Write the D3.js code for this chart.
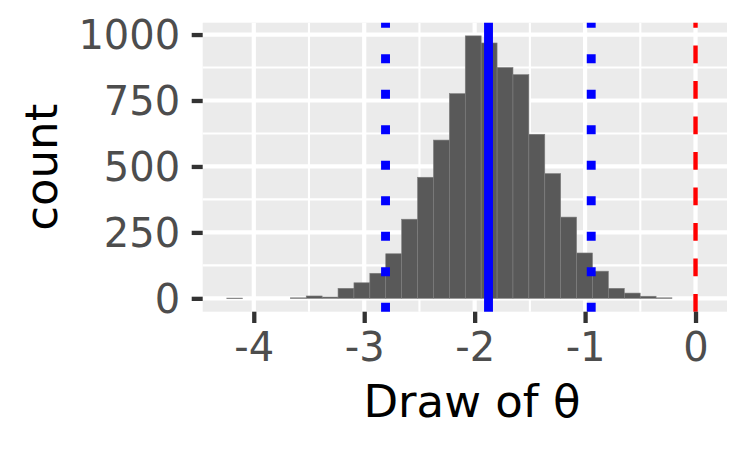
<!DOCTYPE html>
<html>
<head>
<meta charset="utf-8">
<script src="https://cdn.jsdelivr.net/npm/d3@7"></script>
<style>
  body { margin: 0; background: #fff; }
  text { font-family: "DejaVu Sans", sans-serif; }
</style>
</head>
<body>
<svg id="draws"></svg>
<script>
CHART_WIDTH = 750;
CHART_HEIGHT = 450;
PANEL = { left: 202.7, right: 727, top: 22.7, bottom: 311.7 };

// histogram of the draws: left edge of each bin and its count
var binWidth = 0.144;
var binLefts = [-4.245, -4.101, -3.957, -3.813, -3.669, -3.525, -3.381, -3.237,
                -3.093, -2.949, -2.805, -2.661, -2.517, -2.373, -2.229, -2.085,
                -1.941, -1.797, -1.653, -1.509, -1.365, -1.221, -1.077, -0.933,
                -0.789, -0.645, -0.501, -0.357];
var binCounts = [1, 0, 0, 0, 2, 9, 5, 38, 59, 95, 169, 300, 459, 600, 776, 995,
                 968, 875, 848, 622, 473, 308, 172, 103, 38, 20, 8, 2];

// reference lines
var meanDraw = -1.8745;
var intervalDraws = [-2.807, -0.9445];
var nullValue = 0;

var xTicks = [-4, -3, -2, -1, 0];
var xMinor = [-3.5, -2.5, -1.5, -0.5];
var yTicks = [0, 250, 500, 750, 1000];
var yMinor = [125, 375, 625, 875];

function buildHistogram() {
    var svg = d3.select("#draws")
        .attr("width", CHART_WIDTH)
        .attr("height", CHART_HEIGHT);

    var x = d3.scaleLinear().domain([-4.4625, 0.285]).range([PANEL.left, PANEL.right]);
    var y = d3.scaleLinear().domain([-50.6, 1044.9]).range([PANEL.bottom, PANEL.top]);

    svg.append("rect")
        .attr("x", PANEL.left)
        .attr("y", PANEL.top)
        .attr("width", PANEL.right - PANEL.left)
        .attr("height", PANEL.bottom - PANEL.top)
        .attr("fill", "#EBEBEB");

    var grid = svg.append("g").attr("stroke", "#fff");
    grid.selectAll(".yminor").data(yMinor).enter().append("line")
        .attr("x1", PANEL.left).attr("x2", PANEL.right)
        .attr("y1", function(d) { return y(d); })
        .attr("y2", function(d) { return y(d); })
        .attr("stroke-width", 2.1);
    grid.selectAll(".xminor").data(xMinor).enter().append("line")
        .attr("y1", PANEL.top).attr("y2", PANEL.bottom)
        .attr("x1", function(d) { return x(d); })
        .attr("x2", function(d) { return x(d); })
        .attr("stroke-width", 2.1);
    grid.selectAll(".ymajor").data(yTicks).enter().append("line")
        .attr("x1", PANEL.left).attr("x2", PANEL.right)
        .attr("y1", function(d) { return y(d); })
        .attr("y2", function(d) { return y(d); })
        .attr("stroke-width", 4.2);
    grid.selectAll(".xmajor").data(xTicks).enter().append("line")
        .attr("y1", PANEL.top).attr("y2", PANEL.bottom)
        .attr("x1", function(d) { return x(d); })
        .attr("x2", function(d) { return x(d); })
        .attr("stroke-width", 4.2);

    svg.append("g").selectAll("rect")
        .data(binLefts.map(function(b, i) { return { left: b, count: binCounts[i] }; })
                      .filter(function(d) { return d.count > 0; }))
        .enter().append("rect")
        .attr("x", function(d) { return x(d.left); })
        .attr("width", function(d) { return x(d.left + binWidth) - x(d.left); })
        .attr("y", function(d) { return y(d.count); })
        .attr("height", function(d) { return Math.max(0.6, y(0) - y(d.count)); })
        .attr("fill", "#595959")
        .attr("stroke", "#7f7f7f")
        .attr("stroke-width", 0.6);

    // vlines are drawn bottom to top so the dash pattern starts at the panel floor
    function vline(v, colour, width, dash) {
        svg.append("line")
            .attr("x1", x(v)).attr("x2", x(v))
            .attr("y1", PANEL.bottom).attr("y2", PANEL.top)
            .attr("stroke", colour)
            .attr("stroke-width", width)
            .attr("stroke-dasharray", dash);
    }
    intervalDraws.forEach(function(v) { vline(v, "#0000FF", 8.9, "8.9 26.6"); });
    vline(meanDraw, "#0000FF", 8.9, null);
    vline(nullValue, "#FF0000", 4.4, "17.75 17.75");

    // axes
    var plain = function(d) { return String(d); };
    var axisX = svg.append("g")
        .attr("transform", "translate(0," + PANEL.bottom + ")")
        .call(d3.axisBottom(x).tickValues(xTicks).tickSize(11.3).tickPadding(9.5)
              .tickFormat(plain));
    var axisY = svg.append("g")
        .attr("transform", "translate(" + PANEL.left + ",0)")
        .call(d3.axisLeft(y).tickValues(yTicks).tickSize(11).tickPadding(11.5)
              .tickFormat(plain));

    [axisX, axisY].forEach(function(a) {
        a.select(".domain").remove();
        a.selectAll(".tick line").attr("stroke", "#333333").attr("stroke-width", 4.3);
        a.selectAll(".tick text")
            .attr("fill", "#4D4D4D")
            .style("font-size", "40px")
            .style("font-family", "'DejaVu Sans', sans-serif");
    });
    axisX.selectAll(".tick text").attr("dy", "0.71em");
    axisY.selectAll(".tick text").attr("dy", "0.36em");

    svg.append("text")
        .attr("x", 472)
        .attr("y", 417.3)
        .attr("text-anchor", "middle")
        .style("font-size", "45px")
        .attr("fill", "#000")
        .text("Draw of θ");

    svg.append("text")
        .attr("transform", "translate(56.5," + ((PANEL.top + PANEL.bottom) / 2) + ") rotate(-90)")
        .attr("text-anchor", "middle")
        .style("font-size", "45px")
        .attr("fill", "#000")
        .text("count");
}

buildHistogram();
</script>
</body>
</html>
